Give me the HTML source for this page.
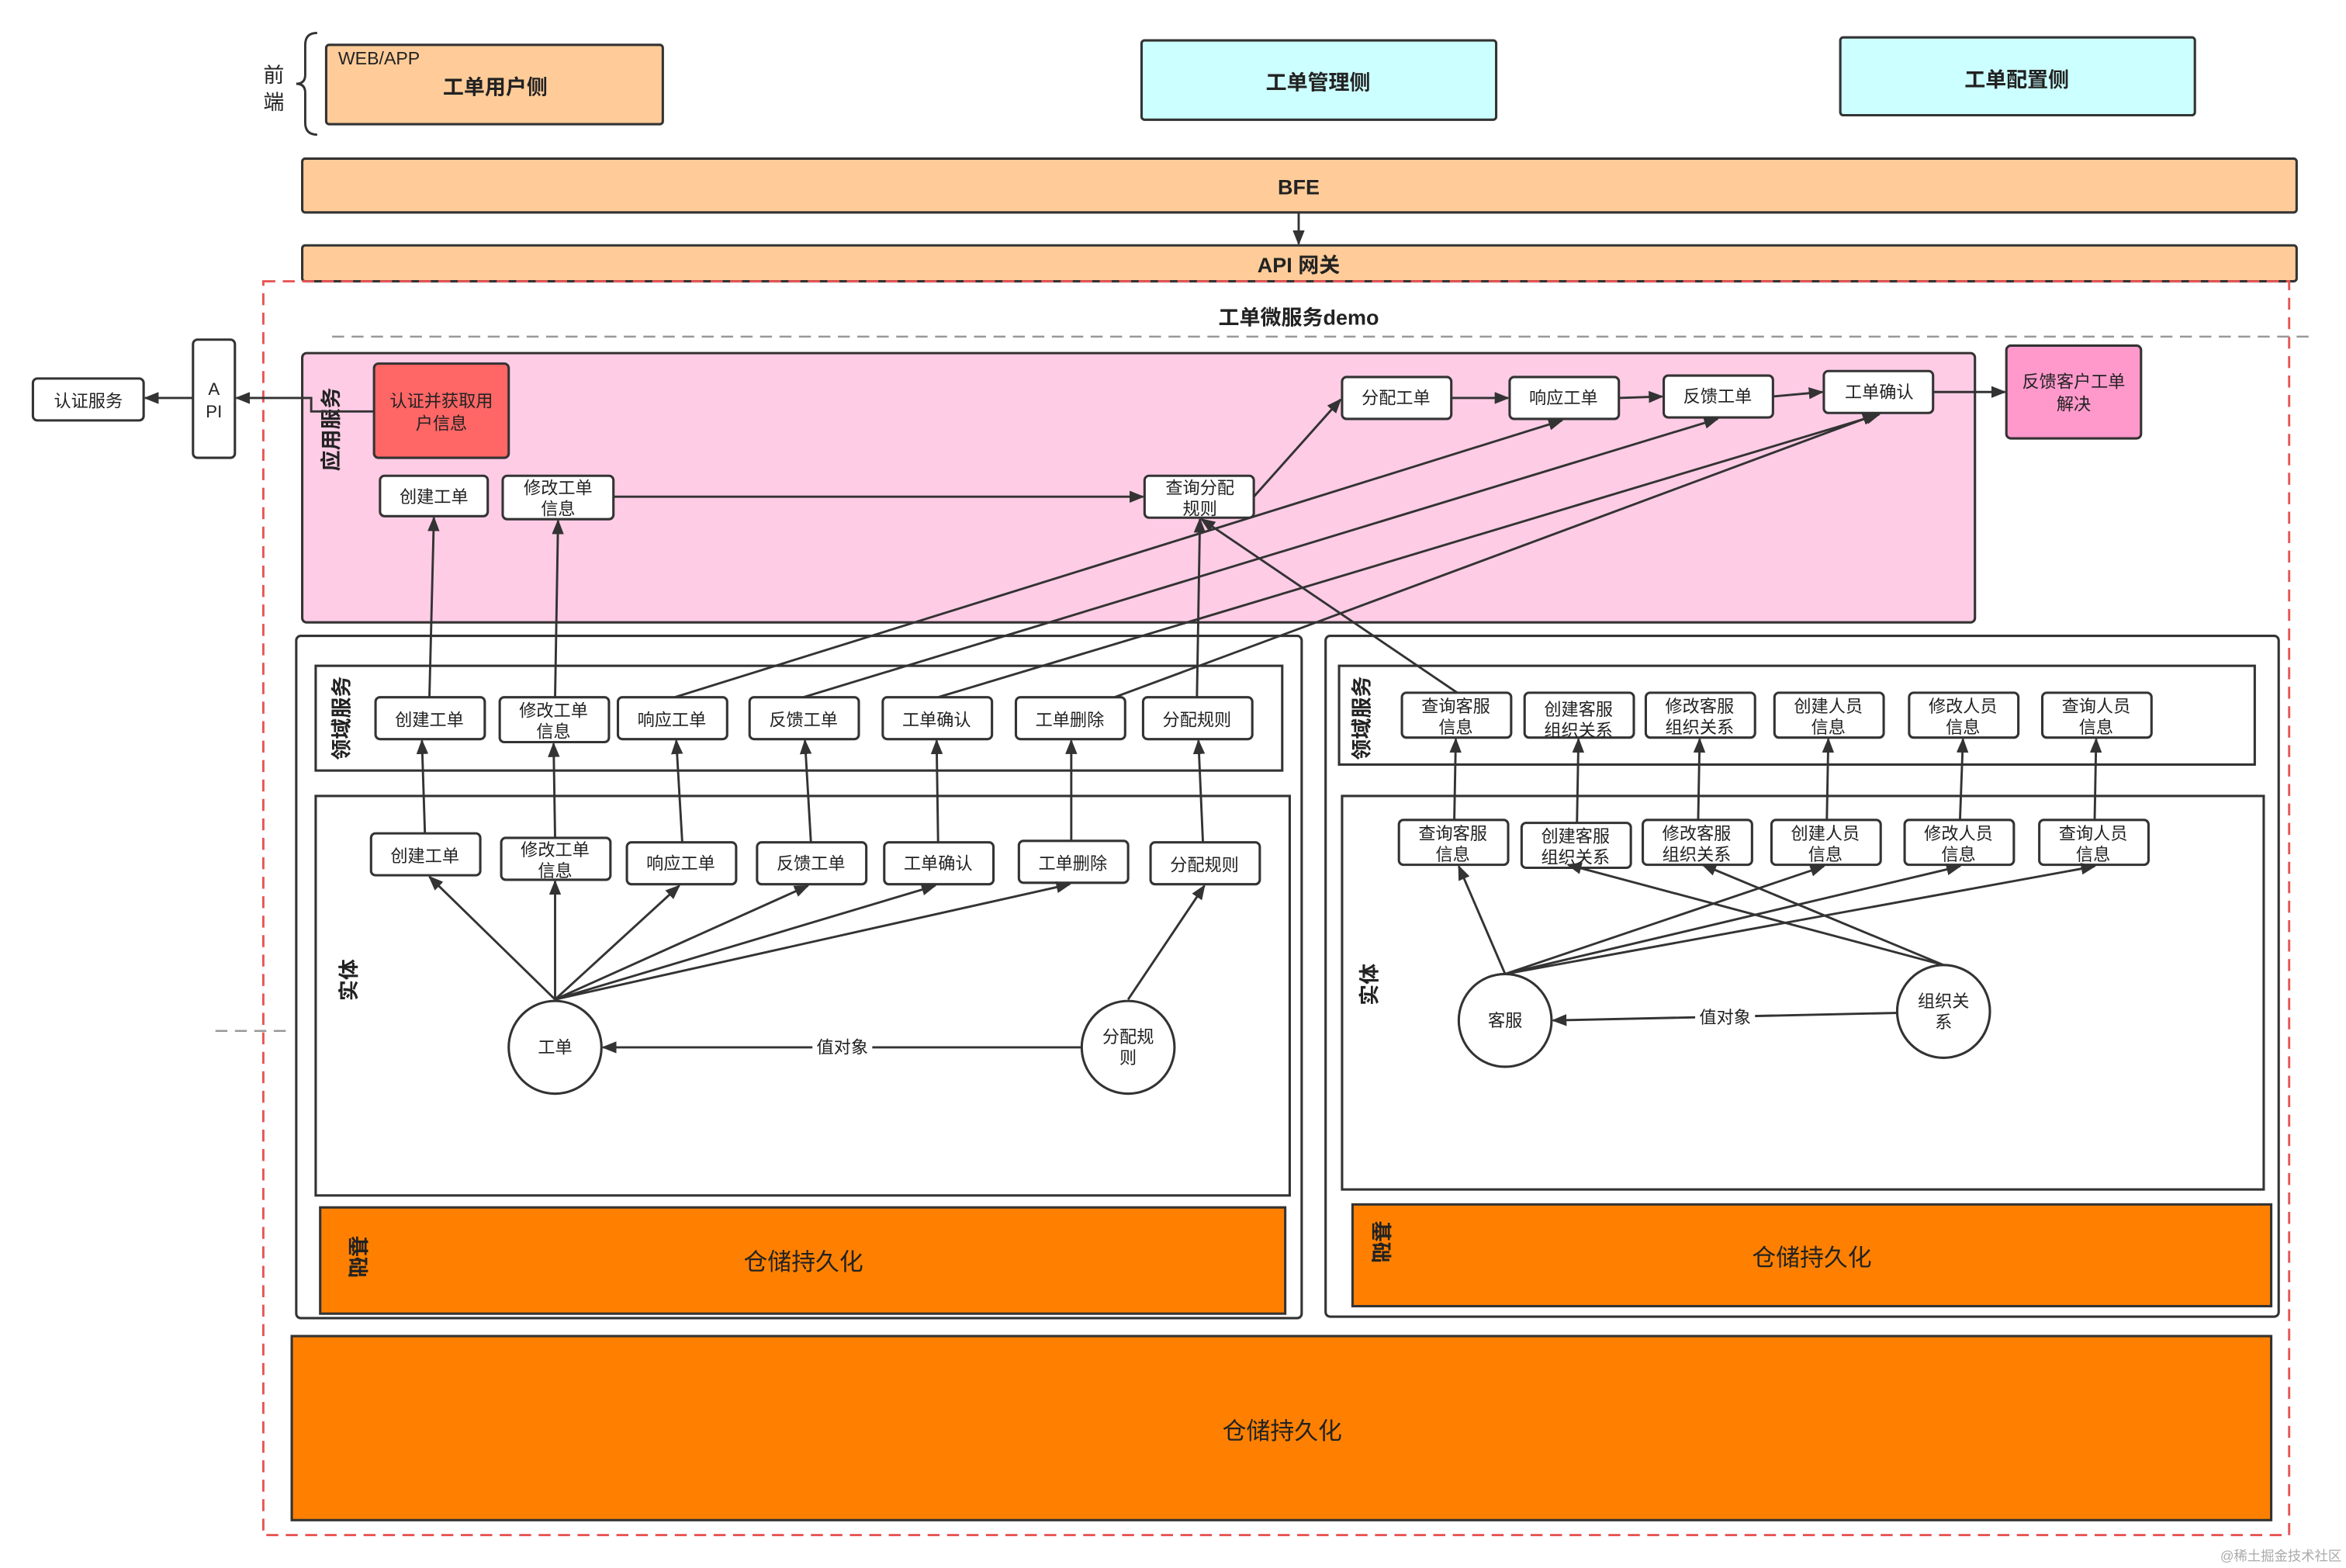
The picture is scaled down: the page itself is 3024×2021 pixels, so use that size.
<!DOCTYPE html>
<html><head><meta charset="utf-8"><style>
html,body{margin:0;padding:0;background:#fff;}
svg{display:block;}
text{font-family:"Liberation Sans","Noto Sans CJK SC",sans-serif;fill:#222;}
.b{fill:#fff;stroke:#333;stroke-width:1.6;}
.l{stroke:#333;stroke-width:1.5;fill:none;marker-end:url(#a);}
.t{font-size:11.5px;text-anchor:middle;}
.h{font-size:14px;font-weight:bold;text-anchor:middle;}
</style></head><body>
<svg width="3024" height="2021" viewBox="0 0 1568 1048" preserveAspectRatio="none" xmlns="http://www.w3.org/2000/svg">
<defs><marker id="a" markerWidth="10" markerHeight="8" refX="9" refY="4" orient="auto" markerUnits="userSpaceOnUse"><path d="M0,0 L10,4 L0,8 Z" fill="#333"/></marker></defs>
<rect width="1568" height="1048" fill="#fff"/>
<text x="183" y="55" font-size="14" text-anchor="middle">前</text>
<text x="183" y="73" font-size="14" text-anchor="middle">端</text>
<path d="M212,22 Q204,22 204,30 L204,50 Q204,56 198,56 Q204,56 204,62 L204,82 Q204,90 212,90" stroke="#333" stroke-width="1.5" fill="none"/>
<rect x="218" y="30" width="225" height="53" rx="2" fill="#FFCC99" stroke="#333" stroke-width="1.6"/>
<text x="226" y="43" font-size="12">WEB/APP</text>
<text x="331" y="63" class="h">工单用户侧</text>
<rect x="763" y="27" width="237" height="53" rx="2" fill="#CCFFFF" stroke="#333" stroke-width="1.6"/>
<text x="881" y="60" class="h">工单管理侧</text>
<rect x="1230" y="25" width="237" height="52" rx="2" fill="#CCFFFF" stroke="#333" stroke-width="1.6"/>
<text x="1348" y="58" class="h">工单配置侧</text>
<rect x="202" y="106" width="1333" height="36" rx="2" fill="#FFCC99" stroke="#333" stroke-width="1.6"/>
<text x="868" y="130" class="h" font-size="15">BFE</text>
<line x1="868" y1="142" x2="868" y2="163" class="l"/>
<rect x="202" y="164" width="1333" height="24" rx="2" fill="#FFCC99" stroke="#333" stroke-width="1.6"/>
<text x="868" y="182" class="h" font-size="15">API 网关</text>
<rect x="176" y="188" width="1354" height="838" fill="none" stroke="#E85555" stroke-width="1.5" stroke-dasharray="8,5"/>
<text x="868" y="217" class="h">工单微服务demo</text>
<line x1="222" y1="225" x2="1548" y2="225" stroke="#999" stroke-width="1.3" stroke-dasharray="8,5"/>
<line x1="144" y1="689" x2="196" y2="689" stroke="#999" stroke-width="1.3" stroke-dasharray="8,5"/>
<rect x="202" y="236" width="1118" height="180" rx="3" fill="#FFCCE6" stroke="#333" stroke-width="1.6"/>
<text transform="translate(226,287) rotate(-90)" class="h" font-size="13">应用服务</text>
<rect x="250" y="243" width="90" height="63" rx="3" fill="#FF6666" stroke="#333" stroke-width="1.6"/>
<text x="295" y="272" class="t">认证并获取用</text><text x="295" y="287" class="t">户信息</text>
<rect x="129" y="227" width="28" height="79" rx="3" class="b"/>
<text x="143" y="264" class="t">A</text><text x="143" y="279" class="t">PI</text>
<rect x="22" y="253" width="74" height="28" rx="3" class="b"/>
<text x="59" y="272" class="t">认证服务</text>
<polyline points="250,275 208,275 208,266 158,266" class="l"/>
<line x1="129" y1="266" x2="97" y2="266" class="l"/>
<!-- containers -->
<rect x="198" y="425" width="672" height="456" rx="3" fill="#fff" stroke="#333" stroke-width="1.6"/>
<rect x="211" y="445" width="646" height="70" fill="#fff" stroke="#333" stroke-width="1.6"/>
<text transform="translate(233,480) rotate(-90)" class="h" font-size="13">领域服务</text>
<rect x="886" y="425" width="637" height="455" rx="3" fill="#fff" stroke="#333" stroke-width="1.6"/>
<rect x="895" y="445" width="612" height="66" fill="#fff" stroke="#333" stroke-width="1.6"/>
<text transform="translate(915,480) rotate(-90)" class="h" font-size="13">领域服务</text>
<!-- lines to app -->
<line x1="410" y1="332" x2="764" y2="332" class="l"/>
<line x1="838" y1="332" x2="896" y2="267" class="l"/>
<line x1="970" y1="266" x2="1008" y2="266" class="l"/>
<line x1="1082" y1="266" x2="1111" y2="265" class="l"/>
<line x1="1185" y1="265" x2="1218" y2="262" class="l"/>
<line x1="1292" y1="262" x2="1340" y2="262" class="l"/>
<line x1="287" y1="466" x2="290" y2="346" class="l"/>
<line x1="371" y1="466" x2="373" y2="348" class="l"/>
<line x1="451" y1="466" x2="1044" y2="281" class="l"/>
<line x1="537" y1="466" x2="1148" y2="280" class="l"/>
<line x1="627" y1="466" x2="1256" y2="277" class="l"/>
<line x1="745" y1="466" x2="1254" y2="277" class="l"/>
<line x1="800" y1="466" x2="802" y2="347" class="l"/>
<line x1="974" y1="463" x2="803" y2="347" class="l"/>
<g>
<rect x="254" y="318" width="72" height="27" rx="3" class="b"/><text x="290" y="336" class="t">创建工单</text>
<rect x="336" y="318" width="74" height="29" rx="3" class="b"/><text x="373" y="330" class="t">修改工单</text><text x="373" y="344" class="t">信息</text>
<rect x="765" y="318" width="73" height="28" rx="3" class="b"/><text x="802" y="330" class="t">查询分配</text><text x="802" y="344" class="t">规则</text>
<rect x="897" y="252" width="73" height="28" rx="3" class="b"/><text x="933" y="270" class="t">分配工单</text>
<rect x="1009" y="252" width="73" height="28" rx="3" class="b"/><text x="1045" y="270" class="t">响应工单</text>
<rect x="1112" y="251" width="73" height="28" rx="3" class="b"/><text x="1148" y="269" class="t">反馈工单</text>
<rect x="1219" y="248" width="73" height="28" rx="3" class="b"/><text x="1256" y="266" class="t">工单确认</text>
<rect x="1341" y="231" width="90" height="62" rx="3" fill="#FF99CC" stroke="#333" stroke-width="1.6"/>
<text x="1386" y="259" class="t">反馈客户工单</text><text x="1386" y="274" class="t">解决</text>
</g>
<g>
<rect x="251" y="466" width="73" height="28" rx="3" class="b"/><text x="287" y="485" class="t">创建工单</text>
<rect x="334" y="466" width="73" height="30" rx="3" class="b"/><text x="370" y="479" class="t">修改工单</text><text x="370" y="493" class="t">信息</text>
<rect x="413" y="466" width="73" height="28" rx="3" class="b"/><text x="449" y="485" class="t">响应工单</text>
<rect x="501" y="466" width="73" height="28" rx="3" class="b"/><text x="537" y="485" class="t">反馈工单</text>
<rect x="590" y="466" width="73" height="28" rx="3" class="b"/><text x="626" y="485" class="t">工单确认</text>
<rect x="679" y="466" width="73" height="28" rx="3" class="b"/><text x="715" y="485" class="t">工单删除</text>
<rect x="764" y="466" width="73" height="28" rx="3" class="b"/><text x="800" y="485" class="t">分配规则</text>
</g>
<rect x="211" y="532" width="651" height="267" fill="#fff" stroke="#333" stroke-width="1.6"/>
<text transform="translate(238,655) rotate(-90)" class="h" font-size="13">实体</text>
<g>
<rect x="248" y="557" width="73" height="28" rx="3" class="b"/><text x="284" y="576" class="t">创建工单</text>
<rect x="335" y="560" width="73" height="28" rx="3" class="b"/><text x="371" y="572" class="t">修改工单</text><text x="371" y="586" class="t">信息</text>
<rect x="419" y="563" width="73" height="28" rx="3" class="b"/><text x="455" y="581" class="t">响应工单</text>
<rect x="506" y="563" width="73" height="28" rx="3" class="b"/><text x="542" y="581" class="t">反馈工单</text>
<rect x="591" y="563" width="73" height="28" rx="3" class="b"/><text x="627" y="581" class="t">工单确认</text>
<rect x="681" y="562" width="73" height="28" rx="3" class="b"/><text x="717" y="581" class="t">工单删除</text>
<rect x="769" y="563" width="73" height="28" rx="3" class="b"/><text x="805" y="582" class="t">分配规则</text>
</g>
<line x1="284" y1="557" x2="282" y2="495" class="l"/>
<line x1="371" y1="560" x2="370" y2="497" class="l"/>
<line x1="456" y1="563" x2="452" y2="495" class="l"/>
<line x1="542" y1="563" x2="538" y2="495" class="l"/>
<line x1="627" y1="563" x2="626" y2="495" class="l"/>
<line x1="716" y1="562" x2="716" y2="495" class="l"/>
<line x1="804" y1="563" x2="801" y2="495" class="l"/>
<circle cx="371" cy="700" r="31" class="b"/><text x="371" y="704" class="t">工单</text>
<circle cx="754" cy="700" r="31" class="b"/><text x="754" y="697" class="t">分配规</text><text x="754" y="711" class="t">则</text>
<line x1="723" y1="700" x2="403" y2="700" class="l"/>
<rect x="543" y="693" width="40" height="14" fill="#fff"/><text x="563" y="704" class="t">值对象</text>
<line x1="371" y1="668" x2="287" y2="586" class="l"/>
<line x1="371" y1="668" x2="371" y2="589" class="l"/>
<line x1="371" y1="668" x2="454" y2="592" class="l"/>
<line x1="371" y1="668" x2="540" y2="592" class="l"/>
<line x1="371" y1="668" x2="625" y2="592" class="l"/>
<line x1="371" y1="668" x2="715" y2="591" class="l"/>
<line x1="754" y1="668" x2="805" y2="592" class="l"/>
<rect x="214" y="807" width="645" height="71" fill="#FF8000" stroke="#333" stroke-width="1.6"/>
<text transform="translate(234,840) rotate(90)" class="h" font-size="13">基础</text>
<text x="537" y="849" font-size="16" text-anchor="middle">仓储持久化</text>
<g>
<rect x="937" y="463" width="73" height="30" rx="3" class="b"/><text x="973" y="476" class="t">查询客服</text><text x="973" y="490" class="t">信息</text>
<rect x="1019" y="463" width="73" height="30" rx="3" class="b"/><text x="1055" y="478" class="t">创建客服</text><text x="1055" y="492" class="t">组织关系</text>
<rect x="1100" y="463" width="73" height="30" rx="3" class="b"/><text x="1136" y="476" class="t">修改客服</text><text x="1136" y="490" class="t">组织关系</text>
<rect x="1186" y="463" width="73" height="30" rx="3" class="b"/><text x="1222" y="476" class="t">创建人员</text><text x="1222" y="490" class="t">信息</text>
<rect x="1276" y="463" width="73" height="30" rx="3" class="b"/><text x="1312" y="476" class="t">修改人员</text><text x="1312" y="490" class="t">信息</text>
<rect x="1365" y="463" width="73" height="30" rx="3" class="b"/><text x="1401" y="476" class="t">查询人员</text><text x="1401" y="490" class="t">信息</text>
</g>
<rect x="897" y="532" width="616" height="263" fill="#fff" stroke="#333" stroke-width="1.6"/>
<text transform="translate(920,658) rotate(-90)" class="h" font-size="13">实体</text>
<g>
<rect x="935" y="548" width="73" height="30" rx="3" class="b"/><text x="971" y="561" class="t">查询客服</text><text x="971" y="575" class="t">信息</text>
<rect x="1017" y="550" width="73" height="30" rx="3" class="b"/><text x="1053" y="563" class="t">创建客服</text><text x="1053" y="577" class="t">组织关系</text>
<rect x="1098" y="548" width="73" height="30" rx="3" class="b"/><text x="1134" y="561" class="t">修改客服</text><text x="1134" y="575" class="t">组织关系</text>
<rect x="1184" y="548" width="73" height="30" rx="3" class="b"/><text x="1220" y="561" class="t">创建人员</text><text x="1220" y="575" class="t">信息</text>
<rect x="1273" y="548" width="73" height="30" rx="3" class="b"/><text x="1309" y="561" class="t">修改人员</text><text x="1309" y="575" class="t">信息</text>
<rect x="1363" y="548" width="73" height="30" rx="3" class="b"/><text x="1399" y="561" class="t">查询人员</text><text x="1399" y="575" class="t">信息</text>
</g>
<line x1="972" y1="548" x2="973" y2="494" class="l"/>
<line x1="1054" y1="550" x2="1055" y2="494" class="l"/>
<line x1="1135" y1="548" x2="1136" y2="494" class="l"/>
<line x1="1221" y1="548" x2="1222" y2="494" class="l"/>
<line x1="1310" y1="548" x2="1312" y2="494" class="l"/>
<line x1="1400" y1="548" x2="1401" y2="494" class="l"/>
<circle cx="1006" cy="682" r="31" class="b"/><text x="1006" y="686" class="t">客服</text>
<circle cx="1299" cy="676" r="31" class="b"/><text x="1299" y="673" class="t">组织关</text><text x="1299" y="687" class="t">系</text>
<line x1="1268" y1="677" x2="1038" y2="682" class="l"/>
<rect x="1133" y="673" width="40" height="14" fill="#fff"/><text x="1153" y="684" class="t">值对象</text>
<line x1="1006" y1="651" x2="975" y2="579" class="l"/>
<line x1="1006" y1="651" x2="1219" y2="579" class="l"/>
<line x1="1006" y1="651" x2="1310" y2="579" class="l"/>
<line x1="1006" y1="651" x2="1400" y2="579" class="l"/>
<line x1="1299" y1="645" x2="1048" y2="578" class="l"/>
<line x1="1299" y1="645" x2="1138" y2="578" class="l"/>
<rect x="904" y="805" width="614" height="68" fill="#FF8000" stroke="#333" stroke-width="1.6"/>
<text transform="translate(918,830) rotate(90)" class="h" font-size="13">基础</text>
<text x="1211" y="846" font-size="16" text-anchor="middle">仓储持久化</text>
<rect x="195" y="893" width="1323" height="123" fill="#FF8000" stroke="#333" stroke-width="1.6"/>
<text x="857" y="962" font-size="16" text-anchor="middle">仓储持久化</text>
<text x="1565" y="1043" font-size="9" text-anchor="end" style="fill:#aaa">@稀土掘金技术社区</text>
</svg>
</body></html>
